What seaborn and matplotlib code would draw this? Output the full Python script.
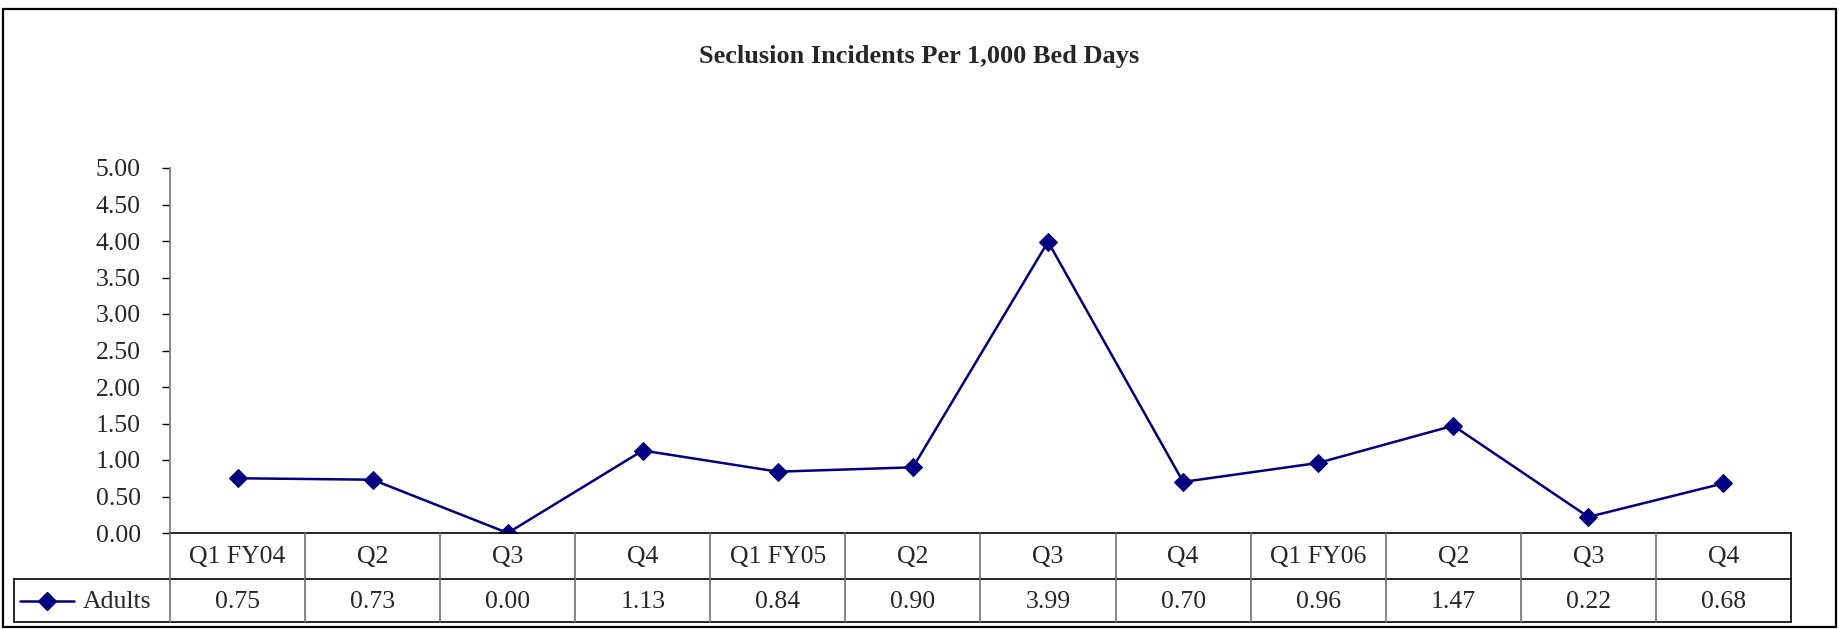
import numpy as np
import pandas as pd
import matplotlib
matplotlib.use("Agg")
import matplotlib.pyplot as plt
import matplotlib.transforms as mtransforms
from matplotlib.lines import Line2D
from matplotlib.patches import Rectangle
import seaborn as sns

# data
quarters = ["Q1 FY04", "Q2", "Q3", "Q4", "Q1 FY05", "Q2", "Q3", "Q4",
            "Q1 FY06", "Q2", "Q3", "Q4"]
adults = [0.75, 0.73, 0.00, 1.13, 0.84, 0.90, 3.99, 0.70, 0.96, 1.47, 0.22, 0.68]
series_name = "Adults"
title = "Seclusion Incidents Per 1,000 Bed Days"
y_ticks = [0, 0.5, 1, 1.5, 2, 2.5, 3, 3.5, 4, 4.5, 5]

sns.set_style("white")
plt.rcParams["font.family"] = ["Liberation Serif", "DejaVu Serif"]

W, H = 1839, 629
navy = "#000080"

fig = plt.figure(figsize=(W / 100, H / 100), dpi=100)

# pixel layout of the plot area
x0, x1 = 170, 1791
y_top, y_bot = 168, 533
ax = fig.add_axes([x0 / W, 1 - y_bot / H, (x1 - x0) / W, (y_bot - y_top) / H])

df = pd.DataFrame({"idx": np.arange(len(quarters)), "val": adults})
sns.lineplot(data=df, x="idx", y="val", ax=ax, color=navy, marker="D",
             markersize=9.5, markeredgecolor=navy, linewidth=1.8)

ax.set_xlim(-0.5, len(quarters) - 0.5)
ax.set_ylim(0, 5)
ax.set_yticks(y_ticks)
ax.set_yticklabels([f"{v:.2f}" for v in y_ticks], fontsize=18.5)
ax.set_xticks([])
ax.set_xlabel("")
ax.set_ylabel("")
for s in ["top", "right"]:
    ax.spines[s].set_visible(False)
ax.spines["left"].set_color("#808080")
ax.spines["left"].set_linewidth(1.3)
ax.spines["bottom"].set_color("black")
ax.spines["bottom"].set_linewidth(1.2)
ax.tick_params(axis="y", direction="out", length=6, width=1, color="black",
               left=True, pad=15)

# title
fig.text(919 / W, 1 - 56 / H, title, ha="center", va="center",
         fontsize=19, fontweight="bold")

# data table under the axis
row1, row2 = 579, 622
tab_left = 14
px = lambda y: 1 - y / H
data_blend = mtransforms.blended_transform_factory(ax.transData, fig.transFigure)

# horizontal lines
fig.add_artist(Line2D([tab_left / W, x1 / W], [px(row1)] * 2, color="black", lw=1.2))
fig.add_artist(Line2D([tab_left / W, x1 / W], [px(row2)] * 2, color="black", lw=1.2))
# vertical lines
fig.add_artist(Line2D([tab_left / W] * 2, [px(row1), px(row2)], color="black", lw=1.2))
for i in range(len(quarters) + 1):
    xl = i - 0.5
    fig.add_artist(Line2D([xl, xl], [px(y_bot), px(row2)], transform=data_blend,
                          color="#707070" if i < len(quarters) else "black", lw=1.2))

for i, (q, v) in enumerate(zip(quarters, adults)):
    fig.text(i, px((y_bot + row1) / 2 + 1), q, transform=data_blend,
             ha="center", va="center", fontsize=18.5)
    fig.text(i, px((row1 + row2) / 2 + 1), f"{v:.2f}", transform=data_blend,
             ha="center", va="center", fontsize=18.5)

# legend key in the table
ly = px((row1 + row2) / 2)
fig.add_artist(Line2D([20 / W, 74 / W], [ly, ly], color=navy, lw=1.8))
fig.add_artist(Line2D([47 / W], [ly], color=navy, marker="D", markersize=9.5))
fig.text(83 / W, px((row1 + row2) / 2 + 1), series_name, ha="left",
         va="center", fontsize=18.5)

# outer chart border
fig.add_artist(Rectangle((3 / W, 1 - 627 / H), (1836 - 3) / W, (627 - 9) / H,
                         transform=fig.transFigure, fill=False,
                         edgecolor="black", lw=1.6))

fig.savefig("out.png", dpi=100, facecolor="white")
